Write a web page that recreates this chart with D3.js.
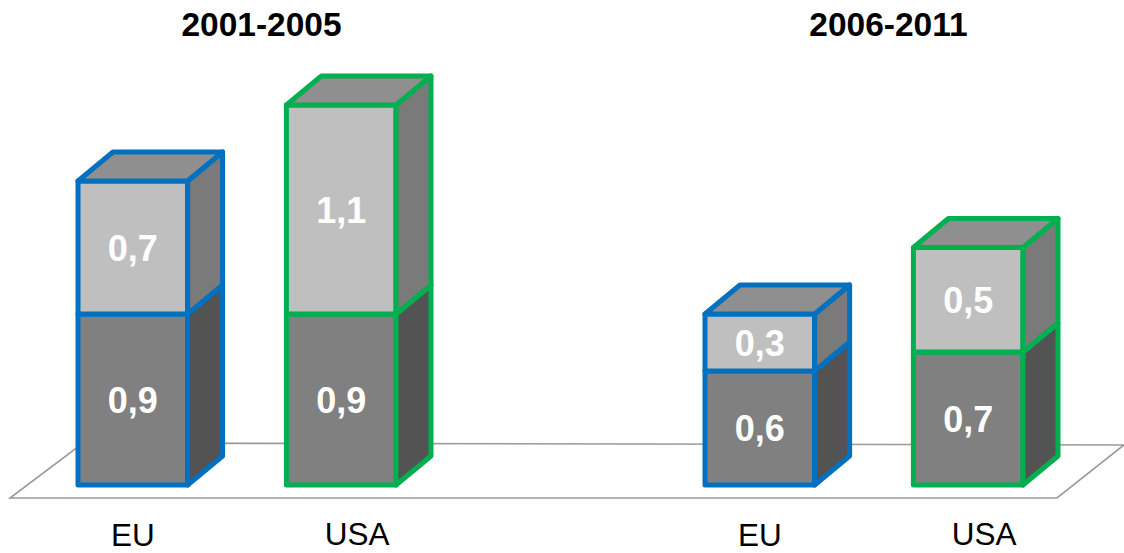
<html>
<head>
<meta charset="utf-8" />
<script src="https://cdn.jsdelivr.net/npm/d3@7"></script>
<style>
body { margin: 0; background: #fff; }
text { font-family: "Liberation Sans", Arial, sans-serif; }
</style>
</head>
<body>
<svg id="chart" width="1124" height="553"></svg>
<script>

// data
var periods = ["2001-2005", "2006-2011"];
var regions = ["EU", "USA"];
var lowerVals = [0.9, 0.9, 0.6, 0.7];     // EU, USA, EU, USA
var upperVals = [0.7, 1.1, 0.3, 0.55];
var lowerLabels = ["0,9", "0,9", "0,6", "0,7"];
var upperLabels = ["0,7", "1,1", "0,3", "0,5"];

var outline = {EU: "#0070c0", USA: "#00b050"};
var depth = {dx: 35, dy: -29};

var svg = d3.select("#chart");

var x0 = d3.scalePoint().domain(periods).range([78, 705]);
var x1 = d3.scaleBand().domain(regions).range([0, 318]).paddingInner(0.474);
var y = d3.scaleLinear().domain([0, 2.2]).range([485, 67]);

var bars = [];
periods.forEach(function(p, i) {
  regions.forEach(function(r, j) {
    let k = i * 2 + j;
    bars.push({period: p, region: r, lo: lowerVals[k], hi: upperVals[k],
               loLab: lowerLabels[k], hiLab: upperLabels[k]});
  });
});

// floor
var fy0 = y(0) + 13, fy1 = y(0) - 42;
svg.append("path")
  .attr("d", "M10," + fy0 + " L1057," + fy0 + " L1124," + (fy1 + 2) + " L83," + fy1 + " Z")
  .attr("fill", "none")
  .attr("stroke", "#9a9a9a")
  .attr("stroke-width", 1.6);

var w = x1.bandwidth();

function seg(g, b, v0, v1, front, side, isTop) {
  let x = x0(b.period) + x1(b.region);
  let yt = y(v1), yb = y(v0);
  let col = outline[b.region];
  g.append("rect")
    .attr("x", x).attr("y", yt).attr("width", w).attr("height", yb - yt)
    .attr("fill", front).attr("stroke", col).attr("stroke-width", 5)
    .attr("stroke-linejoin", "round");
  g.append("polygon")
    .attr("points", [[x + w, yt], [x + w + depth.dx, yt + depth.dy],
                     [x + w + depth.dx, yb + depth.dy], [x + w, yb]].join(" "))
    .attr("fill", side).attr("stroke", col).attr("stroke-width", 5)
    .attr("stroke-linejoin", "round");
  if (isTop) {
    g.append("polygon")
      .attr("points", [[x, yt], [x + depth.dx, yt + depth.dy],
                       [x + w + depth.dx, yt + depth.dy], [x + w, yt]].join(" "))
      .attr("fill", "#8f8f8f").attr("stroke", col).attr("stroke-width", 5)
      .attr("stroke-linejoin", "round");
  }
}

bars.forEach(function(b) {
  let g = svg.append("g");
  seg(g, b, 0, b.lo, "#808080", "#535353", false);
  seg(g, b, b.lo, b.lo + b.hi, "#bfbfbf", "#7a7a7a", true);
  let cx = x0(b.period) + x1(b.region) + w / 2;
  g.append("text")
    .attr("x", cx).attr("y", (y(0) + y(b.lo)) / 2 + 13)
    .attr("text-anchor", "middle").attr("fill", "#fff")
    .attr("font-weight", "bold").attr("font-size", 36)
    .text(b.loLab);
  g.append("text")
    .attr("x", cx).attr("y", (y(b.lo) + y(b.lo + b.hi)) / 2 + 13)
    .attr("text-anchor", "middle").attr("fill", "#fff")
    .attr("font-weight", "bold").attr("font-size", 36)
    .text(b.hiLab);
  // category label under the floor
  svg.append("text")
    .attr("x", cx + (b.region === "USA" ? 16 : 0))
    .attr("y", b.region === "USA" ? 545 : 546)
    .attr("text-anchor", "middle").attr("fill", "#000")
    .attr("font-size", 31.5)
    .text(b.region);
});

// period titles
periods.forEach(function(p) {
  let cx = x0(p) + (x1("USA") + w + depth.dx) / 2 + 7;
  svg.append("text")
    .attr("x", cx).attr("y", 36)
    .attr("text-anchor", "middle").attr("font-weight", "bold")
    .attr("font-size", 33.5).attr("fill", "#000")
    .text(p);
});

</script>
</body>
</html>
